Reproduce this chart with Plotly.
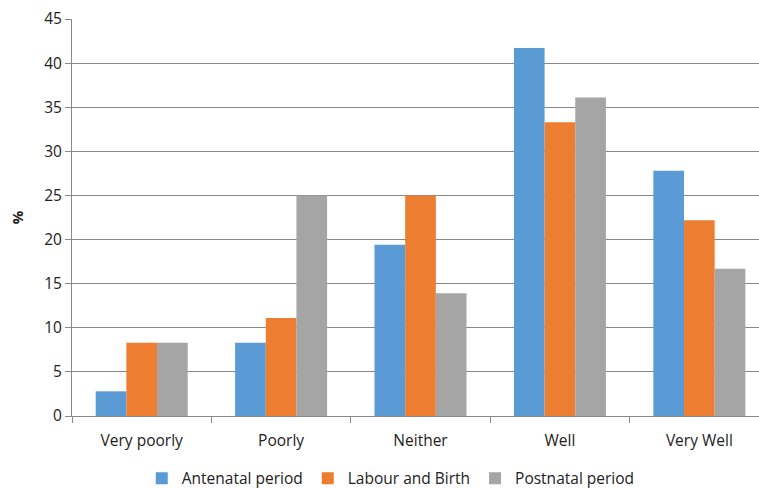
import plotly.graph_objects as go

categories = ["Very poorly", "Poorly", "Neither", "Well", "Very Well"]
antenatal = [2.8, 8.3, 19.4, 41.7, 27.8]
labour_birth = [8.3, 11.1, 25.0, 33.3, 22.2]
postnatal = [8.3, 25.0, 13.9, 36.1, 16.7]

series = [
    ("Antenatal period", antenatal, "#5B9BD5"),
    ("Labour and Birth", labour_birth, "#ED7D31"),
    ("Postnatal period", postnatal, "#A5A5A5"),
]

font_family = "Open Sans, Liberation Sans, sans-serif"
axis_grey = "#888888"

fig = go.Figure()
for name, vals, color in series:
    fig.add_trace(go.Bar(
        x=categories, y=vals, name=name,
        marker=dict(color=color, line=dict(width=0)),
    ))

fig.update_layout(
    width=759, height=488,
    margin=dict(l=72, r=0, t=19, b=72, autoexpand=False),
    paper_bgcolor="white", plot_bgcolor="white",
    barmode="group", bargap=0.34, bargroupgap=0,
    font=dict(family=font_family, size=15, color="#222222"),
    legend=dict(
        orientation="h", x=0.464, xanchor="center",
        yref="container", y=0.019, yanchor="middle",
        font=dict(size=15.5), itemwidth=30, traceorder="normal",
    ),
    showlegend=True,
)
fig.update_xaxes(
    type="category", range=[-0.5, 4.428],
    showline=True, linecolor=axis_grey, linewidth=1,
    ticks="outside", tickson="boundaries", ticklen=6, tickcolor=axis_grey,
    showgrid=False, tickfont=dict(size=15.5), ticklabelstandoff=10,
)
fig.update_yaxes(
    range=[0, 45], dtick=5,
    showline=True, linecolor=axis_grey, linewidth=1,
    ticks="outside", ticklen=6, tickcolor=axis_grey,
    showgrid=True, gridcolor=axis_grey, gridwidth=1,
    zeroline=False, tickfont=dict(size=15.5),
    title=dict(text="<b>%</b>", font=dict(size=15), standoff=16),
)

fig.write_html("out.html")
